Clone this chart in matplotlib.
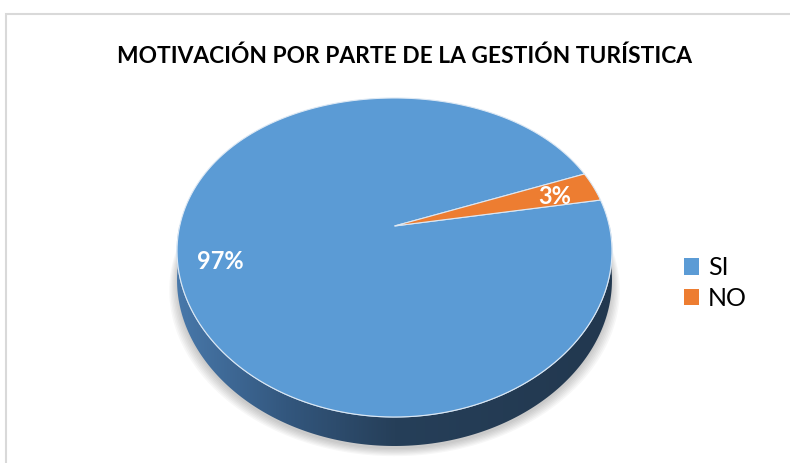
import numpy as np
import matplotlib.pyplot as plt
from matplotlib.patches import Polygon, Rectangle
from matplotlib.colors import LinearSegmentedColormap

labels = ["SI", "NO"]
values = [97, 3]
colors = ["#5b9bd5", "#ed7d31"]
title = "MOTIVACIÓN POR PARTE DE LA GESTIÓN TURÍSTICA"

W, H = 790, 463
fig = plt.figure(figsize=(W / 100, H / 100), dpi=100)
ax = fig.add_axes([0, 0, 1, 1])

# perspective look of the Excel 3-D pie: unit disc -> pixels
CX, CY, RX = 394.5, 226.0, 214.8
K, A, B = 0.16, 159.5, 31.5
DEPTH = 29


def persp(x, y):
    return CX + RX * x * (1 - K * y), CY - A * y + B * y ** 2


# let matplotlib lay out the slices, then redraw them in perspective
wedges, texts, autotexts = ax.pie(values, colors=colors, startangle=20.5,
                                  counterclock=True, autopct=lambda p: f"{p:.0f}%")

# soft shadow under the disc
t = np.linspace(0, 2 * np.pi, 300)
sx, sy = persp(np.cos(t), np.sin(t))
for k in range(7):
    ax.add_patch(Polygon(np.column_stack([CX + (sx - CX) * (1 + k * 0.006),
                                          sy + DEPTH + 3 + k * 1.2]),
                         facecolor="black", alpha=0.03, lw=0, zorder=0))

# side of the disc (front half) with a dark gradient
tf = np.linspace(np.pi, 2 * np.pi, 200)
fx, fy = persp(np.cos(tf), np.sin(tf))
side = Polygon(np.vstack([np.column_stack([fx, fy]),
                          np.column_stack([fx[::-1], fy[::-1] + DEPTH])]),
               closed=True, facecolor="none", lw=0, zorder=1)
ax.add_patch(side)
cmap = LinearSegmentedColormap.from_list(
    "side", [(0, "#4878aa"), (0.25, "#33577e"), (0.5, "#263f59"), (1, "#22384f")])
im = ax.imshow(np.linspace(0, 1, 256).reshape(1, -1), cmap=cmap, aspect="auto",
               extent=(fx.min(), fx.max(), fy.max() + DEPTH, CY), zorder=1)
im.set_clip_path(side)
ax.plot(fx, fy, color="#b9d3ec", lw=0.8, zorder=2)

handles = []
for w, c in zip(wedges, colors):
    th = np.radians(np.linspace(w.theta1, w.theta2, 200))
    px, py = persp(np.concatenate([[0], np.cos(th)]), np.concatenate([[0], np.sin(th)]))
    poly = Polygon(np.column_stack([px, py]), closed=True, facecolor=c,
                   edgecolor="#dce8f4", lw=0.8, zorder=3)
    ax.add_patch(poly)
    handles.append(Rectangle((0, 0), 1, 1, facecolor=c, lw=0))
    w.set_visible(False)

label_pos = [(-0.785, -0.216), (0.770, 0.189)]
for txt, (ux, uy) in zip(autotexts, label_pos):
    txt.set_position(persp(ux, uy))
    txt.set(color="white", fontsize=17, fontweight="bold", family="Lato",
            ha="center", va="center", zorder=5)

ax.set_aspect("auto")
ax.set_xlim(0, W)
ax.set_ylim(H, 0)
ax.axis("off")

# light grey chart border
fig.patches.append(Rectangle((6 / W, -0.02), 1.0, (H - 14) / H + 0.02,
                             transform=fig.transFigure, fill=False,
                             edgecolor="#d9d9d9", lw=1.5))

fig.text(405 / W, 1 - 56 / H, title, ha="center", va="center",
         fontsize=16.4, fontweight="bold", family="Lato")

fig.legend(handles, labels, loc="center left", bbox_to_anchor=(661 / W, 1 - 283 / H),
           frameon=False, prop=dict(family="Lato", size=18),
           handlelength=0.62, handleheight=0.62, handletextpad=0.35, labelspacing=0.3)

fig.savefig("out.png", dpi=100)
